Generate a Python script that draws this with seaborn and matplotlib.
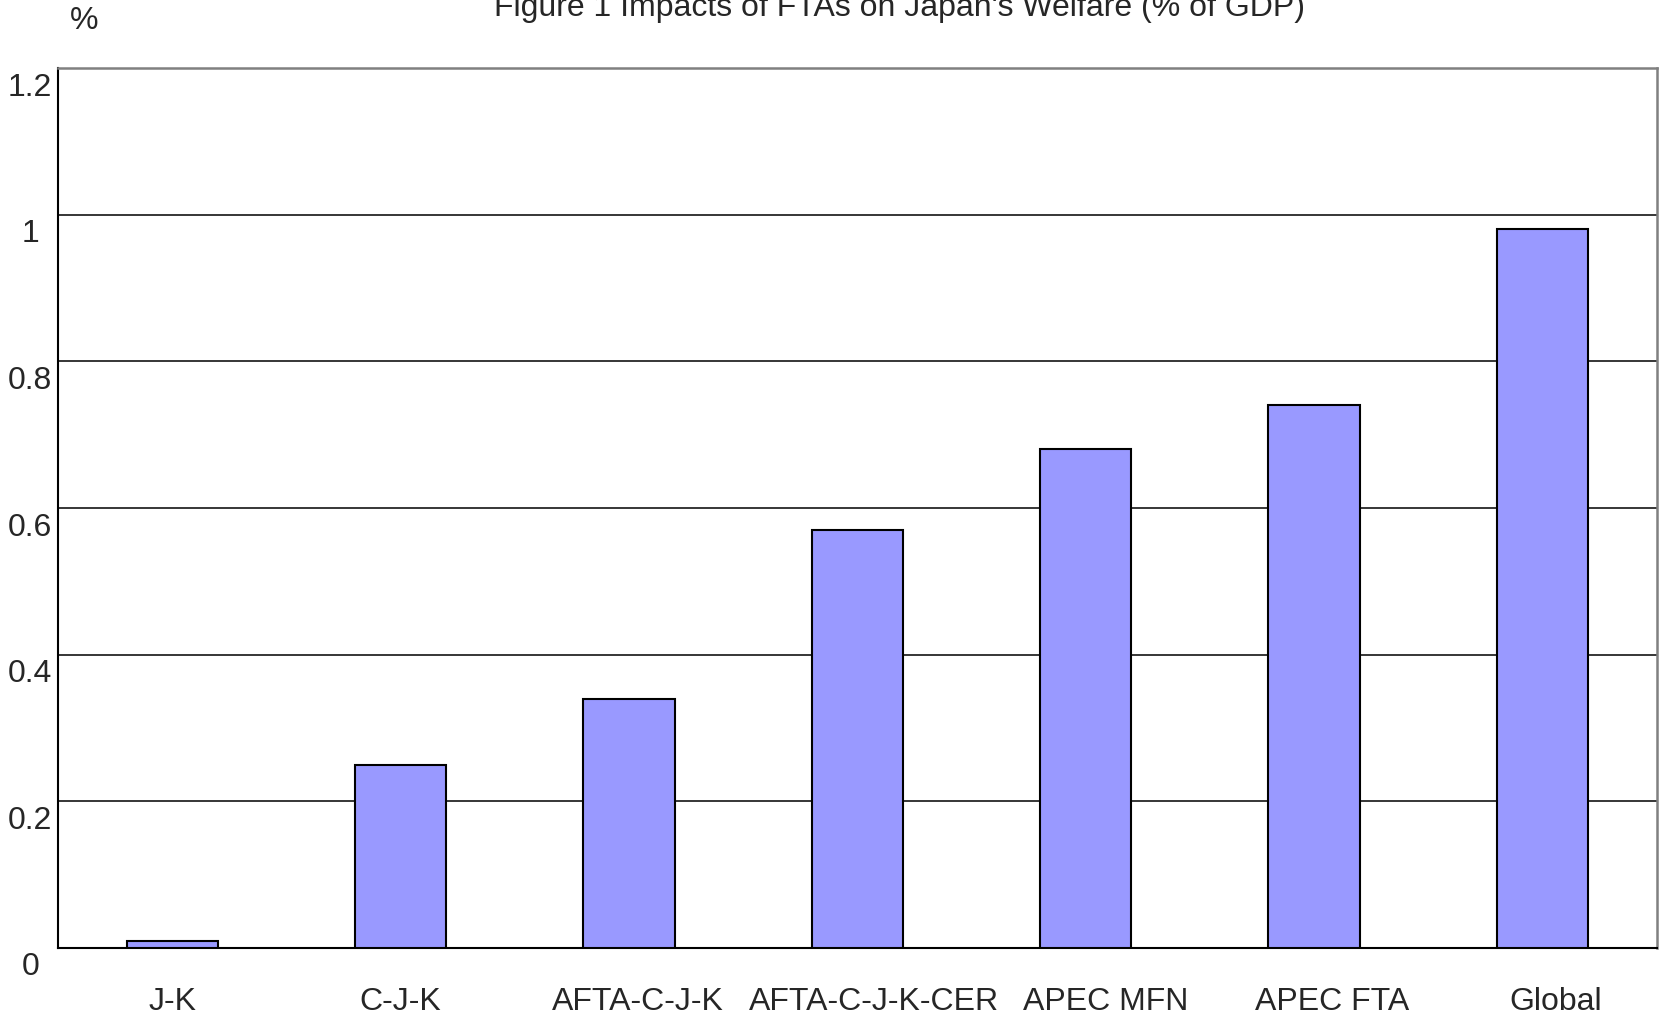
import matplotlib
matplotlib.use("Agg")
import matplotlib.pyplot as plt
import matplotlib.transforms as mtransforms
import seaborn as sns
import pandas as pd

# values
categories = ["J-K", "C-J-K", "AFTA-C-J-K", "AFTA-C-J-K-CER", "APEC MFN", "APEC FTA", "Global"]
welfare = [0.01, 0.25, 0.34, 0.57, 0.68, 0.74, 0.98]
yticks = [0, 0.2, 0.4, 0.6, 0.8, 1.0, 1.2]
ytick_labels = ["0", "0.2", "0.4", "0.6", "0.8", "1", "1.2"]
# the original's category labels drift a little right of their bars (px)
label_shift = [0, 0, 9, 17, 20, 18, 13]

sns.set_style("white")
plt.rcParams["font.family"] = ["Liberation Sans", "DejaVu Sans"]

df = pd.DataFrame({"fta": categories, "welfare": welfare})

fig = plt.figure(figsize=(16.59, 10.16), dpi=100)
ax = fig.add_axes([0.035, 0.067, 0.9635, 0.866])

sns.barplot(data=df, x="fta", y="welfare", color="#9999FF", saturation=1,
            width=0.4, edgecolor="black", linewidth=1.5, ax=ax, zorder=3)

ax.set_xlim(-0.5, len(categories) - 0.5)
ax.set_ylim(0, 1.2)
ax.set_xlabel("")
ax.set_ylabel("")

# gridlines
ax.set_yticks(yticks)
ax.set_yticklabels(ytick_labels)
ax.yaxis.grid(True, color="black", linewidth=1.1, zorder=0)
ax.set_axisbelow(True)

ax.tick_params(axis="y", length=0, pad=20, labelsize=23)
for lbl in ax.get_yticklabels():
    lbl.set_horizontalalignment("center")
    lbl.set_transform(lbl.get_transform() + mtransforms.ScaledTranslation(0, -16 / 100, fig.dpi_scale_trans))

ax.tick_params(axis="x", which="major", length=0, pad=28, labelsize=23)
for lbl, dx in zip(ax.get_xticklabels(), label_shift):
    lbl.set_transform(lbl.get_transform() + mtransforms.ScaledTranslation(dx / 100, 0, fig.dpi_scale_trans))

ax.set_xticks([i + 0.5 for i in range(len(categories) - 1)], minor=True)
ax.tick_params(axis="x", which="minor", direction="in", length=5.5, width=1.2, color="#555555")

for side in ["left", "bottom"]:
    ax.spines[side].set_color("black")
    ax.spines[side].set_linewidth(1.5)
for side in ["top", "right"]:
    ax.spines[side].set_visible(True)
    ax.spines[side].set_color("#808080")
    ax.spines[side].set_linewidth(1.8)

fig.text(0.542, 0.984, "Figure 1 Impacts of FTAs on Japan's Welfare (% of GDP)",
         ha="center", va="baseline", fontsize=23)
fig.text(0.051, 0.971, "%", ha="center", va="baseline", fontsize=23)

fig.savefig("out.png", dpi=100)
